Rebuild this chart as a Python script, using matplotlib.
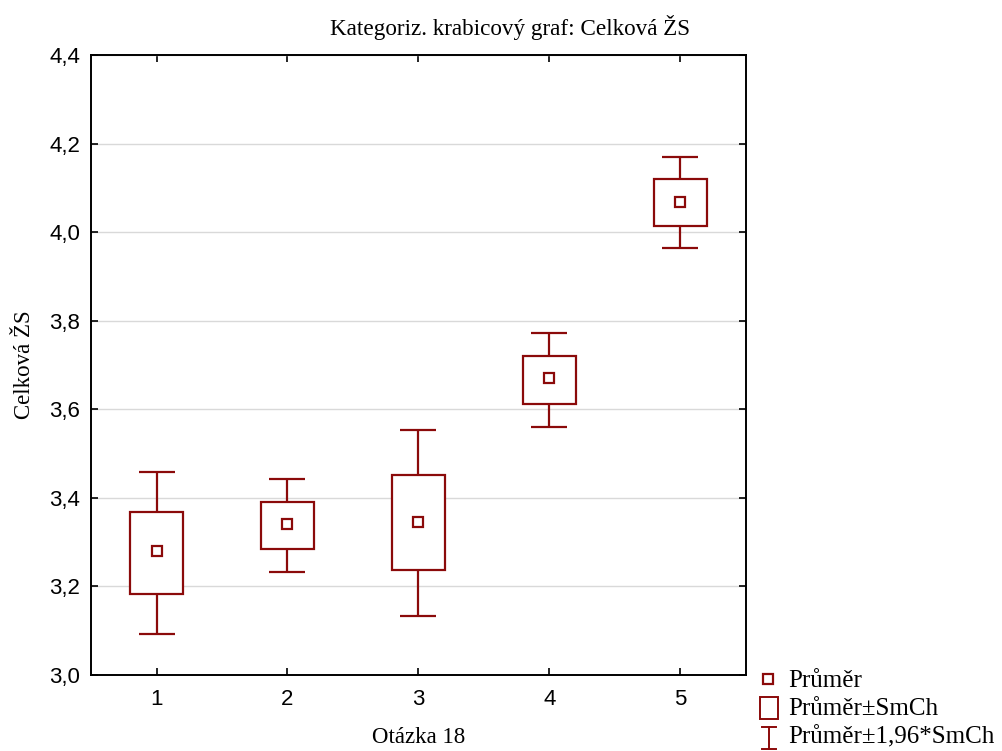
import matplotlib.pyplot as plt
import numpy as np

# Otázka 18 categories
categories = ['1', '2', '3', '4', '5']
means = [3.280, 3.341, 3.345, 3.670, 4.068]
se_low = [3.183, 3.285, 3.236, 3.612, 4.015]
se_high = [3.369, 3.391, 3.452, 3.721, 4.120]
ci_low = [3.093, 3.233, 3.133, 3.560, 3.965]
ci_high = [3.458, 3.443, 3.553, 3.773, 4.170]

red = '#8b0a0a'
serif = 'Liberation Serif'
sans = 'Liberation Sans'

fig = plt.figure(figsize=(10.02, 7.51), dpi=100)
ax = fig.add_axes([91/1002, 1 - 675/751, (746-91)/1002, (675-55)/751])

x = np.arange(1, len(categories) + 1)
means = np.array(means)
se_low = np.array(se_low); se_high = np.array(se_high)
ci_low = np.array(ci_low); ci_high = np.array(ci_high)

# whiskers (±1,96*SmCh)
ax.errorbar(x, means, yerr=[means - ci_low, ci_high - means], fmt='none',
            ecolor=red, elinewidth=1.6, capsize=13, capthick=1.6, zorder=2)
# boxes (±SmCh)
ax.bar(x, se_high - se_low, bottom=se_low, width=0.405, facecolor='white',
       edgecolor=red, linewidth=1.6, zorder=3)
# means
ax.plot(x, means, 's', ms=7, mfc='white', mec=red, mew=1.6, ls='none', zorder=4)

ax.set_xlim(0.5, 5.5)
ax.set_ylim(3.0, 4.4)
ax.set_xticks(x)
ax.set_xticklabels(categories)
yt = np.arange(3.0, 4.41, 0.2)
ax.set_yticks(yt)
ax.set_yticklabels([('%.1f' % v).replace('.', ',') for v in yt])
ax.tick_params(direction='in', top=True, right=True, length=5, width=1.2,
               labelsize=16)
ax.tick_params(axis='x', pad=10)
ax.tick_params(axis='y', pad=8)
for lab in ax.get_xticklabels() + ax.get_yticklabels():
    lab.set_fontfamily(sans)
ax.yaxis.grid(True, color='#d9d9d9', lw=1)
ax.set_axisbelow(True)
for s in ax.spines.values():
    s.set_linewidth(1.4)

fig.text(510/1002, 1 - 28/751, 'Kategoriz. krabicový graf: Celková ŽS', family=serif,
         fontsize=16.7, ha='center', va='center')
ax.set_xlabel('Otázka 18', family=serif, fontsize=16.5)
ax.xaxis.set_label_coords(0.5, -0.084)
ax.set_ylabel('Celková ŽS', family=serif, fontsize=16.5)
ax.yaxis.set_label_coords(-0.086, 0.5)

# legend drawn as figure text
fs_leg = 18
fig.text(788/1002, 1 - 681/751, 'Průměr', family=serif, fontsize=fs_leg, va='center')
fig.text(788/1002, 1 - 709/751, 'Průměr±SmCh', family=serif, fontsize=fs_leg, va='center')
fig.text(788/1002, 1 - 737/751, 'Průměr±1,96*SmCh', family=serif, fontsize=fs_leg, va='center')
fig.add_artist(plt.Line2D([768/1002], [1 - 679/751], marker='s', ms=7, mfc='white',
                          mec=red, mew=1.6, transform=fig.transFigure))
fig.add_artist(plt.Rectangle((760/1002, 1 - 719/751), 18/1002, 22/751, fill=False,
                             edgecolor=red, lw=1.4, transform=fig.transFigure))
fig.add_artist(plt.Line2D([769/1002, 769/1002], [1 - 749/751, 1 - 727/751], color=red,
                          lw=1.4, transform=fig.transFigure))
fig.add_artist(plt.Line2D([762/1002, 776/1002], [1 - 727/751, 1 - 727/751], color=red,
                          lw=1.4, transform=fig.transFigure))
fig.add_artist(plt.Line2D([762/1002, 776/1002], [1 - 749/751, 1 - 749/751], color=red,
                          lw=1.4, transform=fig.transFigure))

fig.savefig('out.png', dpi=100)
